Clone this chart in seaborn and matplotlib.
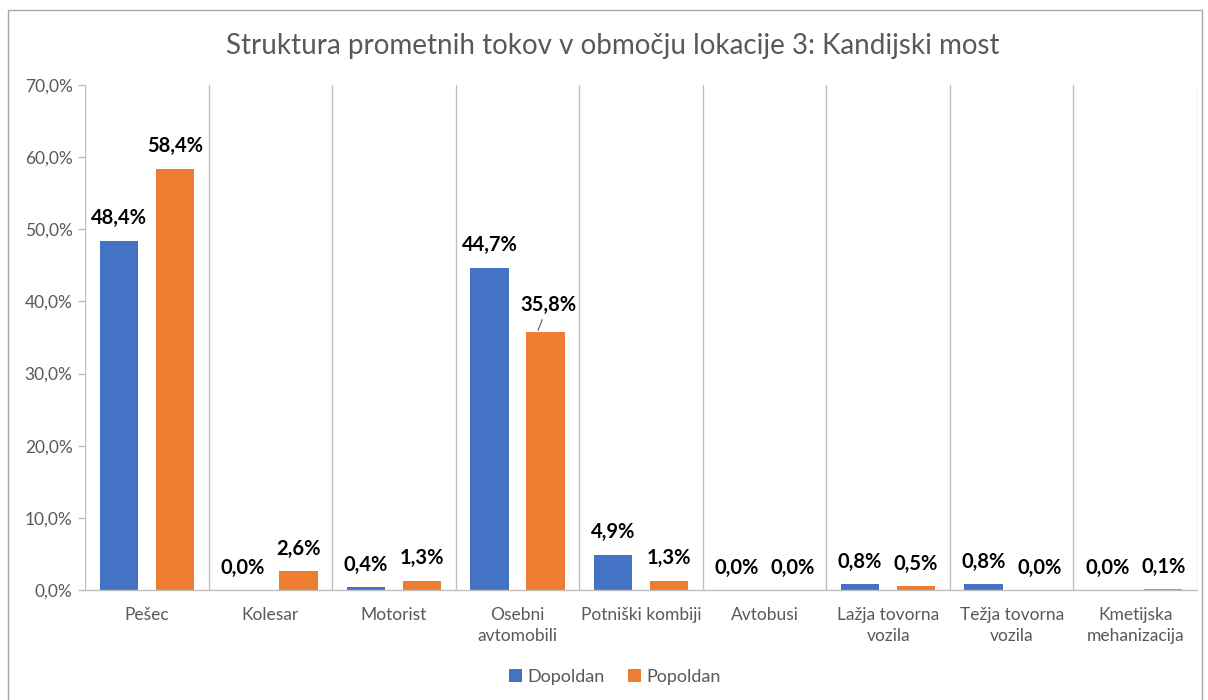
import matplotlib
matplotlib.use("Agg")
import matplotlib.pyplot as plt
import seaborn as sns
import pandas as pd
from matplotlib.patches import Rectangle

categories = ["Pešec", "Kolesar", "Motorist", "Osebni\navtomobili", "Potniški kombiji",
              "Avtobusi", "Lažja tovorna\nvozila", "Težja tovorna\nvozila", "Kmetijska\nmehanizacija"]
series_names = ["Dopoldan", "Popoldan"]
dopoldan = [48.4, 0.0, 0.4, 44.7, 4.9, 0.0, 0.8, 0.8, 0.0]
popoldan = [58.4, 2.6, 1.3, 35.8, 1.3, 0.0, 0.5, 0.0, 0.1]
yticks = [0, 10, 20, 30, 40, 50, 60, 70]
title = "Struktura prometnih tokov v območju lokacije 3: Kandijski most"

colors = ["#4472C4", "#ED7D31"]
text_gray = "#595959"
grid_gray = "#BFBFBF"

df = pd.DataFrame({
    "Kategorija": categories * 2,
    "Obdobje": [series_names[0]] * len(categories) + [series_names[1]] * len(categories),
    "Vrednost": dopoldan + popoldan,
})

sns.set_theme(style="white")
plt.rcParams["font.family"] = ["Lato", "DejaVu Sans"]

fig = plt.figure(figsize=(12.08, 7.0), dpi=100)
ax = fig.add_axes([85 / 1208, 1 - 590 / 700, (1197 - 85) / 1208, (590 - 85) / 700])

sns.barplot(data=df, x="Kategorija", y="Vrednost", hue="Obdobje", order=categories,
            hue_order=series_names, palette=colors, width=0.907, gap=0.316,
            saturation=1, ax=ax, legend=True, edgecolor="none", linewidth=0)

ax.set_xlim(-0.5, len(categories) - 0.5)
ax.set_ylim(0, 70)
ax.set_yticks(yticks)
ax.set_yticklabels([f"{v:.1f}%".replace(".", ",") for v in yticks], fontsize=12.5, color=text_gray)
ax.set_xticks(range(len(categories)))
ax.set_xticklabels(categories, fontsize=12.5, color=text_gray, linespacing=1.4)
ax.set_xlabel("")
ax.set_ylabel("")

# category boundary gridlines and ticks
bounds = [i - 0.5 for i in range(len(categories) + 1)]
ax.set_xticks(bounds, minor=True)
ax.tick_params(axis="x", which="major", length=0, pad=12)
ax.tick_params(axis="x", which="minor", length=7, color=grid_gray, width=1)
ax.tick_params(axis="y", which="major", length=5, color=grid_gray, width=1, pad=4, left=True)
ax.grid(False)
for b in bounds:
    ax.axvline(b, color=grid_gray, lw=1, zorder=0)

for s in ["top", "right", "left"]:
    ax.spines[s].set_visible(False)
ax.spines["bottom"].set_color(grid_gray)
ax.spines["bottom"].set_linewidth(1)

# data labels
for ci, cont in enumerate(ax.containers):
    vals = dopoldan if ci == 0 else popoldan
    for i, (bar, v) in enumerate(zip(cont, vals)):
        xc = bar.get_x() + bar.get_width() / 2
        lab = f"{v:.1f}%".replace(".", ",")
        if ci == 1 and i == 3:
            ax.annotate(lab, xy=(xc - 0.06, v + 0.2), xytext=(xc + 0.02, v + 3.7),
                        ha="center", va="center", fontsize=14.5, fontweight="bold", color="black",
                        arrowprops=dict(arrowstyle="-", color="#595959", lw=0.8,
                                        shrinkA=1, shrinkB=0))
        else:
            ax.annotate(lab, xy=(xc, v), xytext=(0, 9), textcoords="offset points",
                        ha="center", va="bottom", fontsize=14.5, fontweight="bold", color="black")

fig.text(613 / 1208, 1 - 46 / 700, title, fontsize=20, color=text_gray,
         ha="center", va="center")

leg = ax.legend(loc="center", bbox_to_anchor=((615 - 85) / 1112, (677 - 590) / -(590 - 85)),
                ncol=2, frameon=False, fontsize=13, handlelength=0.7, handleheight=0.7,
                handletextpad=0.3, columnspacing=1.3)
for t in leg.get_texts():
    t.set_color(text_gray)

fig.patches.append(Rectangle((8 / 1208, -0.01), (1202 - 8) / 1208, 1 - 10 / 700 + 0.01,
                             transform=fig.transFigure, fill=False, edgecolor="#A6A6A6",
                             lw=1, zorder=-1))

fig.savefig("out.png", dpi=100)
